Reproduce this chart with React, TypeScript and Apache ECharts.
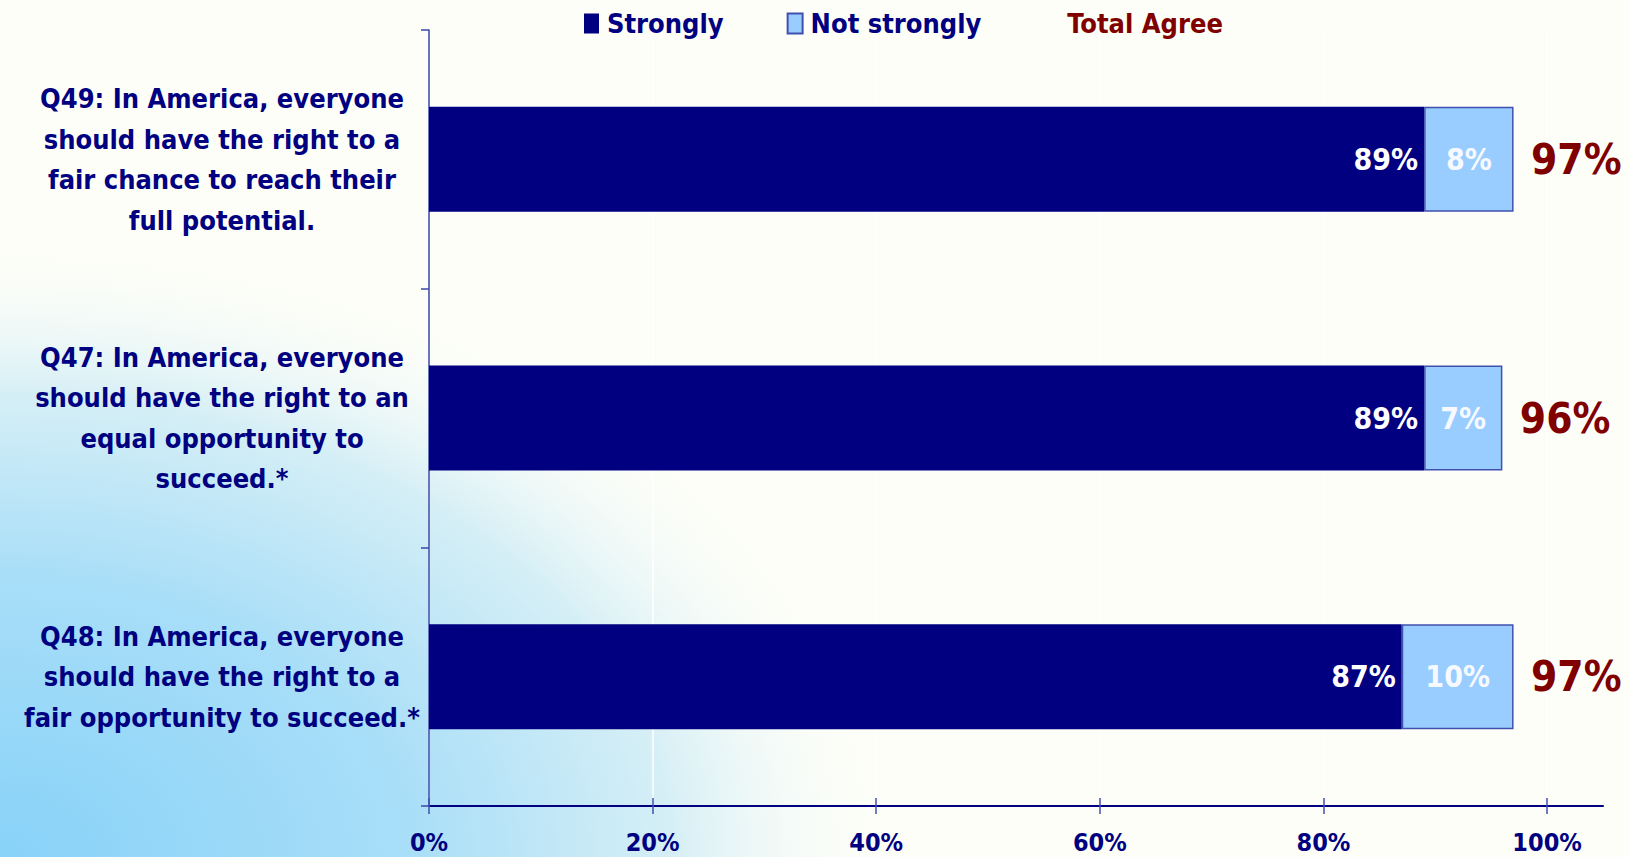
import React, { useEffect, useRef } from "react";
import * as echarts from "echarts";

const categories = [
  "Q49: In America, everyone\nshould have the right to a\nfair chance to reach their\nfull potential.",
  "Q47: In America, everyone\nshould have the right to an\nequal opportunity to\nsucceed.*",
  "Q48: In America, everyone\nshould have the right to a\nfair opportunity to succeed.*",
];
const strongly = [89, 89, 87];
const notStrongly = [8, 7, 10];
const totalAgree = [97, 96, 97];
const xTicks = [0, 20, 40, 60, 80, 100];
const legendNames = ["Strongly", "Not strongly", "Total Agree"];

const FONT = "'DejaVu Sans Condensed', 'DejaVu Sans', sans-serif";
const NAVY = "#000080";
const RED = "#800000";

export default function App() {
  const ref = useRef<HTMLDivElement>(null);
  useEffect(() => {
    if (!ref.current) return;
    const chart = echarts.init(ref.current, null, { renderer: "svg" });
    const option: any = {
      animation: false,
      backgroundColor: "#FDFEF8",
      textStyle: { fontFamily: FONT },
      graphic: [
        {
          type: "rect",
          z: -10,
          silent: true,
          x: 0,
          y: 857 - 1000,
          scaleX: 1.45,
          scaleY: 1,
          shape: { x: 0, y: 0, width: 1000, height: 1000 },
          style: {
            fill: {
              type: "radial",
              x: 0,
              y: 1,
              r: 0.62,
              colorStops: [
                { offset: 0, color: "#88D2F8" },
                { offset: 0.45, color: "#A8DEF8" },
                { offset: 0.75, color: "#D6EFF6" },
                { offset: 1, color: "rgba(253,254,248,0)" },
              ],
            },
          },
        },
      ],
      legend: {
        left: 584,
        top: 10,
        padding: 0,
        itemWidth: 15,
        itemHeight: 20,
        itemGap: 63,
        textStyle: {
          color: NAVY,
          fontSize: 27,
          fontWeight: "bold",
          fontFamily: FONT,
          padding: [0, 0, 0, 3],
        },
        data: [
          { name: legendNames[0], icon: "rect" },
          { name: legendNames[1], icon: "rect" },
          { name: legendNames[2], icon: "none", textStyle: { color: RED } },
        ],
      },
      grid: { left: 429, right: 26, top: 30, bottom: 51, containLabel: false },
      xAxis: [
        {
          type: "value",
          min: 0,
          max: 105,
          interval: 20,
          position: "bottom",
          axisLine: { show: true, lineStyle: { color: NAVY, width: 2 } },
          axisTick: { show: true, length: 8, customValues: xTicks, lineStyle: { color: "#4050B0", width: 1.5 } },
          axisLabel: {
            customValues: xTicks,
            formatter: "{value}%",
            margin: 24,
            color: NAVY,
            fontSize: 25,
            lineHeight: 25,
            fontWeight: "bold",
            fontFamily: FONT,
          },
          splitLine: { show: true, lineStyle: { color: "#FFFFFF", width: 1.5 } },
        },
        {
          type: "value",
          min: 0,
          max: 105,
          interval: 20,
          position: "bottom",
          axisLine: { show: false },
          axisTick: { show: true, inside: true, length: 8, customValues: xTicks, lineStyle: { color: "#4050B0", width: 1.5 } },
          axisLabel: { show: false },
          splitLine: { show: false },
        },
      ],
      yAxis: {
        type: "category",
        data: categories,
        inverse: true,
        axisLine: { show: true, lineStyle: { color: "#3A46A8", width: 1.5 } },
        axisTick: { show: true, length: 8, lineStyle: { color: "#3A46A8", width: 1.5 } },
        axisLabel: {
          align: "center",
          margin: 207,
          color: NAVY,
          fontSize: 27,
          lineHeight: 40.5,
          fontWeight: "bold",
          fontFamily: FONT,
        },
        splitLine: { show: false },
      },
      series: [
        {
          name: legendNames[0],
          type: "bar",
          stack: "agree",
          barCategoryGap: "59.4%",
          data: strongly,
          itemStyle: { color: NAVY },
          label: {
            show: true,
            position: "insideRight",
            distance: 6,
            formatter: "{c}%",
            color: "#FFFFFF",
            fontSize: 30,
            fontWeight: "bold",
            fontFamily: FONT,
          },
        },
        {
          name: legendNames[1],
          type: "bar",
          stack: "agree",
          barCategoryGap: "59.4%",
          data: notStrongly,
          itemStyle: { color: "#99CCFF", borderColor: "#4050B0", borderWidth: 1.5 },
          label: {
            show: true,
            position: "inside",
            formatter: "{c}%",
            color: "#F6FAFF",
            fontSize: 30,
            fontWeight: "bold",
            fontFamily: FONT,
          },
        },
        {
          name: legendNames[2],
          type: "scatter",
          symbol: "rect",
          symbolSize: 1,
          itemStyle: { color: "rgba(0,0,0,0)", opacity: 1 },
          data: totalAgree.map((v, i) => [v, categories[i]]),
          label: {
            show: true,
            position: "right",
            distance: 17,
            formatter: (p: any) => p.value[0] + "%",
            color: RED,
            opacity: 1,
            fontSize: 42,
            fontWeight: "bold",
            fontFamily: FONT,
          },
        },
      ],
    };
    chart.setOption(option);
    return () => chart.dispose();
  }, []);
  return (
    <div
      ref={ref}
      style={{ position: "fixed", left: 0, top: 0, width: 1629, height: 857 }}
    />
  );
}
